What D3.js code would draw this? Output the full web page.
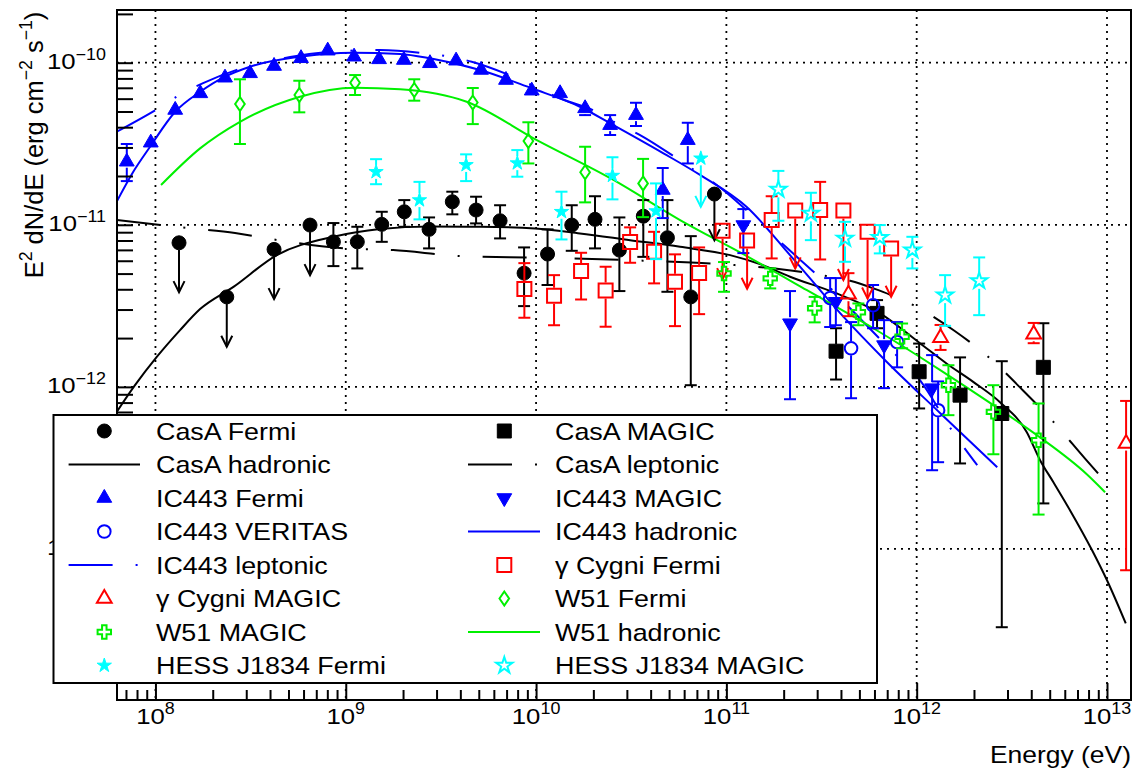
<!DOCTYPE html>
<html>
<head>
<meta charset="utf-8">
<title>SNR gamma-ray spectra</title>
<script src="https://cdn.jsdelivr.net/npm/d3@7"></script>
<style>
  html, body { margin: 0; padding: 0; background: #fff; }
  svg { display: block; }
  text { font-family: "Liberation Sans", Arial, Helvetica, sans-serif; fill: #000; }
</style>
</head>
<body>
<svg id="chart" width="1140" height="770"></svg>
<script>
// ---------------- data: E in eV, E^2 dN/dE in erg cm^-2 s^-1 ----------------

// Cas A, Fermi-LAT (detections with 1-sigma bars)
const casaFermiE  = [8.61e8, 1.15e9, 1.546e9, 2.03e9, 2.74e9, 3.63e9, 4.84e9, 6.47e9, 8.65e9, 1.149e10, 1.54e10, 2.04e10, 2.74e10, 3.66e10, 4.90e10, 6.50e10];
const casaFermiF  = [7.85e-12, 7.85e-12, 1.006e-11, 1.203e-11, 9.37e-12, 1.387e-11, 1.233e-11, 1.059e-11, 5.03e-12, 6.60e-12, 9.96e-12, 1.08e-11, 6.98e-12, 1.13e-11, 8.32e-12, 3.59e-12];
const casaFermiHi = [1.025e-11, 9.72e-12, 1.203e-11, 1.42e-11, 1.11e-11, 1.60e-11, 1.49e-11, 1.32e-11, 7.25e-12, 9.37e-12, 1.32e-11, 1.50e-11, 1.11e-11, 1.42e-11, 1.42e-11, 8.51e-12];
const casaFermiLo = [5.56e-12, 5.38e-12, 7.85e-12, 9.72e-12, 7.15e-12, 1.16e-11, 1.02e-11, 8.24e-12, 3.15e-12, 4.25e-12, 6.91e-12, 7.15e-12, 3.90e-12, 6.34e-12, 3.86e-12, 1.024e-12];
// Cas A, Fermi-LAT upper limits (value and arrow tip)
const casaFermiUlE   = [1.33e8, 2.37e8, 4.20e8, 6.49e8, 8.65e10];
const casaFermiUlF   = [7.74e-12, 3.59e-12, 7.05e-12, 9.96e-12, 1.547e-11];
const casaFermiUlTip = [3.84e-12, 1.77e-12, 3.48e-12, 4.89e-12, 8.04e-12];

// Cas A, MAGIC
const casaMagicE  = [3.77e11, 6.19e11, 1.03e12, 1.69e12, 2.80e12, 4.63e12];
const casaMagicF  = [1.66e-12, 2.84e-12, 1.24e-12, 8.89e-13, 6.85e-13, 1.32e-12];
const casaMagicHi = [2.30e-12, 3.43e-12, 1.85e-12, 1.52e-12, 1.44e-12, 2.47e-12];
const casaMagicLo = [1.11e-12, 2.30e-12, 7.36e-13, 3.37e-13, 3.29e-14, 1.91e-13];

// IC 443, Fermi-LAT (bars only where they stick out of the marker)
const ic443FermiE  = [7.07e7, 9.45e7, 1.27e8, 1.72e8, 2.32e8, 3.14e8, 4.20e8, 5.82e8, 8.04e8, 1.106e9, 1.496e9, 2.02e9, 2.77e9, 3.80e9, 5.14e9, 6.95e9, 9.49e9, 1.337e10, 1.81e10, 2.45e10, 3.35e10, 4.63e10, 6.27e10];
const ic443FermiF  = [2.45e-11, 3.21e-11, 5.11e-11, 6.47e-11, 8.08e-11, 8.60e-11, 9.54e-11, 1.065e-10, 1.186e-10, 1.089e-10, 1.049e-10, 1.039e-10, 9.92e-11, 1.029e-10, 9.02e-11, 7.82e-11, 6.72e-11, 6.47e-11, 5.23e-11, 4.12e-11, 4.75e-11, 1.64e-11, 3.33e-11];
const ic443FermiHi = [3.15e-11, null, null, null, null, null, null, null, null, null, null, null, null, null, null, null, null, null, 5.62e-11, 4.75e-11, 5.66e-11, 2.24e-11, 4.26e-11];
const ic443FermiLo = [1.86e-11, null, null, null, null, null, null, null, null, null, null, null, null, null, null, null, null, null, 4.75e-11, 3.58e-11, 4.07e-11, 1.10e-11, 2.39e-11];

// IC 443, MAGIC
const ic443MagicE  = [1.228e11, 2.16e11, 3.76e11, 6.74e11, 1.205e12];
const ic443MagicF  = [9.96e-12, 2.47e-12, 3.35e-12, 1.81e-12, 9.82e-13];
const ic443MagicHi = [1.25e-11, 3.90e-12, 4.69e-12, 2.58e-12, 1.57e-12];
const ic443MagicLo = [6.69e-12, 8.39e-13, 2.40e-12, 9.82e-13, 3.06e-13];

// IC 443, VERITAS
const ic443VeritasE  = [3.51e11, 4.52e11, 5.90e11, 7.89e11, 1.296e12];
const ic443VeritasF  = [3.53e-12, 1.73e-12, 3.19e-12, 1.89e-12, 7.18e-13];
const ic443VeritasHi = [4.69e-12, 2.51e-12, 4.25e-12, 2.51e-12, 1.08e-12];
const ic443VeritasLo = [2.34e-12, 8.51e-13, 2.30e-12, 1.32e-12, 3.43e-13];

// gamma Cygni, Fermi-LAT
const gcygFermiE  = [8.68e9, 1.243e10, 1.724e10, 2.32e10, 3.12e10, 4.17e10, 5.37e10, 7.19e10, 1.73e11, 3.11e11];
const gcygFermiF  = [4.01e-12, 3.65e-12, 5.18e-12, 3.93e-12, 7.82e-12, 6.81e-12, 4.45e-12, 5.05e-12, 1.069e-11, 1.233e-11];
const gcygFermiHi = [5.80e-12, 4.89e-12, 6.72e-12, 5.51e-12, 9.64e-12, 9.05e-12, 6.57e-12, 7.25e-12, 1.50e-11, 1.84e-11];
const gcygFermiLo = [2.67e-12, 2.40e-12, 3.46e-12, 2.35e-12, 5.83e-12, 4.35e-12, 2.37e-12, 2.81e-12, 6.20e-12, 6.11e-12];
const gcygFermiUlE   = [9.55e10, 1.285e11, 2.30e11, 4.12e11, 5.52e11, 7.34e11];
const gcygFermiUlF   = [9.18e-12, 7.99e-12, 1.224e-11, 1.224e-11, 9.05e-12, 7.15e-12];
const gcygFermiUlTip = [4.62e-12, 4.03e-12, 5.38e-12, 4.56e-12, 3.51e-12, 3.60e-12];

// gamma Cygni, MAGIC
const gcygMagicE  = [4.38e11, 1.335e12, 4.12e12, 1.26e13];
const gcygMagicF  = [3.73e-12, 2.01e-12, 2.11e-12, 4.47e-13];
const gcygMagicHi = [5.03e-12, 2.41e-12, 2.48e-12, 8.19e-13];
const gcygMagicLo = [2.73e-12, 1.69e-12, 1.86e-12, 7.39e-14];

// W51, Fermi-LAT
const w51FermiE  = [2.78e8, 5.70e8, 1.119e9, 2.29e9, 4.65e9, 9.11e9, 1.81e10, 3.65e10];
const w51FermiF  = [5.56e-11, 6.32e-11, 7.52e-11, 6.78e-11, 5.68e-11, 3.29e-11, 2.11e-11, 1.80e-11];
const w51FermiHi = [7.90e-11, 7.74e-11, 8.39e-11, 7.90e-11, 6.98e-11, 4.29e-11, 3.03e-11, 2.55e-11];
const w51FermiLo = [3.15e-11, 4.94e-11, 6.32e-11, 5.83e-11, 4.18e-11, 2.39e-11, 1.375e-11, 1.115e-11];

// W51, MAGIC
const w51MagicE  = [9.72e10, 1.70e11, 2.91e11, 4.94e11, 8.38e11, 1.468e12, 2.53e12, 4.37e12];
const w51MagicF  = [5.01e-12, 4.67e-12, 3.06e-12, 2.89e-12, 2.04e-12, 1.024e-12, 7.01e-13, 4.69e-13];
const w51MagicHi = [5.89e-12, 5.38e-12, 3.59e-12, 3.27e-12, 2.46e-12, 1.36e-12, 1.024e-12, 7.90e-13];
const w51MagicLo = [3.86e-12, 4.05e-12, 2.50e-12, 2.40e-12, 1.73e-12, 6.69e-13, 3.84e-13, 1.63e-13];

// HESS J1834-087, Fermi-LAT
const hessFermiE  = [1.443e9, 2.44e9, 4.29e9, 7.97e9, 1.36e10, 2.52e10, 4.27e10];
const hessFermiF  = [2.12e-11, 1.42e-11, 2.34e-11, 2.40e-11, 1.203e-11, 2.01e-11, 1.215e-11];
const hessFermiHi = [2.54e-11, 1.84e-11, 2.72e-11, 2.89e-11, 1.60e-11, 2.61e-11, 1.80e-11];
const hessFermiLo = [1.78e-11, 1.08e-11, 1.86e-11, 1.98e-11, 8.12e-12, 1.435e-11, 6.14e-12];
const hessFermiUlE   = [7.34e10];
const hessFermiUlF   = [2.57e-11];
const hessFermiUlTip = [1.29e-11];

// HESS J1834-087, MAGIC
const hessMagicE  = [1.876e11, 2.78e11, 4.20e11, 6.40e11, 9.49e11, 1.41e12, 2.13e12];
const hessMagicF  = [1.654e-11, 1.176e-11, 8.24e-12, 8.34e-12, 6.98e-12, 3.68e-12, 4.51e-12];
const hessMagicHi = [2.15e-11, 1.576e-11, 1.043e-11, 9.96e-12, 8.43e-12, 4.89e-12, 6.29e-12];
const hessMagicLo = [1.059e-11, 8.04e-12, 5.91e-12, 6.66e-12, 5.38e-12, 2.38e-12, 2.77e-12];

// Model curves
const casaHadE = [6.26e7, 7.81e7, 1.016e8, 1.347e8, 1.716e8, 2.57e8, 4.34e8, 8.61e8, 1.515e9, 2.77e9, 5.08e9, 9.88e9, 1.70e10, 3.12e10, 5.71e10, 1.046e11, 1.50e11, 2.16e11, 3.65e11, 6.42e11, 1.04e12, 1.44e12, 1.99e12, 2.74e12, 3.79e12, 4.45e12, 5.23e12, 6.40e12, 8.35e12, 1.00e13, 1.254e13];
const casaHadF = [7.01e-13, 1.024e-12, 1.53e-12, 2.24e-12, 3.02e-12, 4.14e-12, 6.50e-12, 8.43e-12, 9.41e-12, 9.75e-12, 9.72e-12, 9.50e-12, 8.85e-12, 8.04e-12, 7.31e-12, 6.50e-12, 5.72e-12, 4.78e-12, 3.84e-12, 2.84e-12, 1.86e-12, 1.39e-12, 1.07e-12, 8.04e-13, 5.25e-13, 3.53e-13, 2.58e-13, 1.73e-13, 9.82e-14, 6.41e-14, 3.48e-14];

const casaLepE = [6.26e7, 1.484e8, 2.62e8, 4.41e8, 9.33e8, 1.773e9, 4.07e9, 1.012e10, 3.65e10, 1.11e11, 1.98e11, 3.17e11, 4.47e11, 5.92e11, 9.61e11, 1.578e12, 2.38e12, 3.61e12, 5.23e12, 7.67e12, 1.077e13];
const casaLepF = [1.069e-11, 9.54e-12, 8.89e-12, 8.04e-12, 7.18e-12, 6.98e-12, 6.41e-12, 6.27e-12, 6.01e-12, 5.64e-12, 5.30e-12, 4.89e-12, 4.51e-12, 4.05e-12, 3.19e-12, 2.22e-12, 1.53e-12, 9.54e-13, 6.08e-13, 3.61e-13, 2.30e-13];

const ic443HadE = [6.26e7, 7.62e7, 9.37e7, 1.27e8, 1.72e8, 2.32e8, 3.14e8, 5.75e8, 1.092e9, 1.93e9, 2.77e9, 5.08e9, 9.49e9, 1.70e10, 2.55e10, 4.67e10, 7.27e10, 1.28e11, 2.16e11, 3.96e11, 6.99e11, 1.33e12, 2.65e12];
const ic443HadF = [1.39e-11, 2.11e-11, 3.03e-11, 4.98e-11, 6.62e-11, 8.20e-11, 9.45e-11, 1.089e-10, 1.153e-10, 1.132e-10, 1.064e-10, 9.01e-11, 6.95e-11, 5.35e-11, 4.12e-11, 2.76e-11, 2.03e-11, 1.286e-11, 6.50e-12, 2.85e-12, 1.42e-12, 6.88e-13, 3.19e-13];

const ic443LepE = [6.26e7, 1.07e8, 1.363e8, 1.78e8, 2.89e8, 5.10e8, 8.79e8, 1.515e9, 2.61e9, 3.53e9, 4.59e9, 7.60e9, 1.365e10, 2.08e10, 2.69e10, 3.52e10, 5.49e10, 6.99e10, 8.90e10, 1.33e11, 2.03e11, 3.04e11, 4.56e11, 6.82e11, 1.04e12, 1.55e12, 2.08e12];
const ic443LepF = [3.75e-11, 5.35e-11, 6.41e-11, 7.49e-11, 9.31e-11, 1.084e-10, 1.172e-10, 1.198e-10, 1.143e-10, 1.089e-10, 1.014e-10, 8.20e-11, 5.97e-11, 4.98e-11, 4.18e-11, 3.58e-11, 2.57e-11, 2.12e-11, 1.76e-11, 1.176e-11, 7.39e-12, 4.82e-12, 2.98e-12, 1.83e-12, 1.10e-12, 5.28e-13, 3.29e-13];

const w51HadE = [1.07e8, 1.716e8, 2.78e8, 5.75e8, 1.119e9, 1.93e9, 4.32e9, 1.009e10, 2.55e10, 5.71e10, 1.28e11, 2.65e11, 5.92e11, 1.33e12, 2.53e12, 4.36e12, 7.83e12, 9.77e12];
const w51HadF = [1.76e-11, 2.96e-11, 4.32e-11, 6.17e-11, 7.01e-11, 6.85e-11, 5.74e-11, 3.33e-11, 1.89e-11, 1.069e-11, 6.41e-12, 3.95e-12, 2.30e-12, 1.27e-12, 7.71e-13, 4.96e-13, 2.89e-13, 2.24e-13];

// Axis decorations
const decadesE = [1e8, 1e9, 1e10, 1e11, 1e12, 1e13];
const decadesF = [1e-13, 1e-12, 1e-11, 1e-10];
const xTickLabels = ["8", "9", "10", "11", "12", "13"];
const yTickLabels = ["\u221213", "\u221212", "\u221211", "\u221210"];

// ---------------- layout ----------------
const svg = d3.select("#chart");
const frame = { left: 117, right: 1131, top: 10, bottom: 700 };

const x = d3.scaleLog().domain([6.28e7, 1.337e13]).range([frame.left, frame.right]);
const y = d3.scaleLog().domain([1.17e-14, 2.114e-10]).range([frame.bottom, frame.top]);

const COL = { black: "#000000", blue: "#0000ff", red: "#ff0000", green: "#00f000", cyan: "#00ffff" };

svg.append("defs").append("clipPath").attr("id", "plot-clip")
  .append("rect")
  .attr("x", frame.left).attr("y", frame.top)
  .attr("width", frame.right - frame.left).attr("height", frame.bottom - frame.top);

// dotted grid at each decade
const grid = svg.append("g")
  .attr("stroke", "#000").attr("stroke-width", 1.8).attr("stroke-dasharray", "2 5");
grid.selectAll("line.gx").data(decadesE).join("line").attr("class", "gx")
  .attr("x1", d => x(d)).attr("x2", d => x(d))
  .attr("y1", frame.top).attr("y2", frame.bottom);
grid.selectAll("line.gy").data(decadesF).join("line").attr("class", "gy")
  .attr("x1", frame.left).attr("x2", frame.right)
  .attr("y1", d => y(d)).attr("y2", d => y(d));

const plot = svg.append("g").attr("clip-path", "url(#plot-clip)");

// ---------------- model curves ----------------
const LEPTONIC_DASH = "44 23 2 23";
const curves = {
  casaHad:  { E: casaHadE,  F: casaHadF,  color: COL.black, dash: null },
  casaLep:  { E: casaLepE,  F: casaLepF,  color: COL.black, dash: LEPTONIC_DASH },
  ic443Had: { E: ic443HadE, F: ic443HadF, color: COL.blue,  dash: null },
  ic443Lep: { E: ic443LepE, F: ic443LepF, color: COL.blue,  dash: LEPTONIC_DASH },
  w51Had:   { E: w51HadE,   F: w51HadF,   color: COL.green, dash: null }
};
const curveLine = d3.line().x(d => x(d[0])).y(d => y(d[1])).curve(d3.curveMonotoneX);
Object.values(curves).forEach(c => {
  plot.append("path")
    .attr("d", curveLine(d3.zip(c.E, c.F)))
    .attr("fill", "none")
    .attr("stroke", c.color)
    .attr("stroke-width", 2)
    .attr("stroke-dasharray", c.dash);
});

// ---------------- markers ----------------
const diamondType = {
  draw(ctx) {
    ctx.moveTo(0, -7); ctx.lineTo(4.8, 0); ctx.lineTo(0, 7); ctx.lineTo(-4.8, 0); ctx.closePath();
  }
};
const shapeGen = {
  circle:     d3.symbol(d3.symbolCircle, Math.PI * 7 * 7),
  openCircle: d3.symbol(d3.symbolCircle, Math.PI * 6.3 * 6.3),
  square:     d3.symbol(d3.symbolSquare, 14 * 14),
  triangle:   d3.symbol(d3.symbolTriangle, 95),
  diamond:    d3.symbol(diamondType, 1),
  cross:      d3.symbol(d3.symbolCross, 100),
  star:       d3.symbol(d3.symbolStar, 63),
  openStar:   d3.symbol(d3.symbolStar, 82)
};

const series = {
  casaFermi:   { E: casaFermiE, F: casaFermiF, hi: casaFermiHi, lo: casaFermiLo,
                 ulE: casaFermiUlE, ulF: casaFermiUlF, ulTip: casaFermiUlTip,
                 shape: "circle", open: false, color: COL.black, gap: 7 },
  casaMagic:   { E: casaMagicE, F: casaMagicF, hi: casaMagicHi, lo: casaMagicLo,
                 shape: "square", open: false, color: COL.black, gap: 7 },
  ic443Fermi:  { E: ic443FermiE, F: ic443FermiF, hi: ic443FermiHi, lo: ic443FermiLo,
                 shape: "triangle", open: false, color: COL.blue, gap: 6 },
  ic443Magic:  { E: ic443MagicE, F: ic443MagicF, hi: ic443MagicHi, lo: ic443MagicLo,
                 shape: "triangle", flip: true, open: false, color: COL.blue, gap: 6 },
  ic443Veritas:{ E: ic443VeritasE, F: ic443VeritasF, hi: ic443VeritasHi, lo: ic443VeritasLo,
                 shape: "openCircle", open: true, color: COL.blue, gap: 7 },
  gcygFermi:   { E: gcygFermiE, F: gcygFermiF, hi: gcygFermiHi, lo: gcygFermiLo,
                 ulE: gcygFermiUlE, ulF: gcygFermiUlF, ulTip: gcygFermiUlTip,
                 shape: "square", open: true, color: COL.red, gap: 8 },
  gcygMagic:   { E: gcygMagicE, F: gcygMagicF, hi: gcygMagicHi, lo: gcygMagicLo,
                 shape: "triangle", open: true, color: COL.red, gap: 7 },
  w51Fermi:    { E: w51FermiE, F: w51FermiF, hi: w51FermiHi, lo: w51FermiLo,
                 shape: "diamond", open: true, color: COL.green, gap: 7 },
  w51Magic:    { E: w51MagicE, F: w51MagicF, hi: w51MagicHi, lo: w51MagicLo,
                 shape: "cross", open: true, color: COL.green, gap: 7 },
  hessFermi:   { E: hessFermiE, F: hessFermiF, hi: hessFermiHi, lo: hessFermiLo,
                 ulE: hessFermiUlE, ulF: hessFermiUlF, ulTip: hessFermiUlTip,
                 shape: "star", open: false, color: COL.cyan, gap: 7 },
  hessMagic:   { E: hessMagicE, F: hessMagicF, hi: hessMagicHi, lo: hessMagicLo,
                 shape: "openStar", open: true, color: COL.cyan, gap: 8 }
};

function drawMarker(g, s, px, py) {
  g.append("path")
    .attr("d", shapeGen[s.shape]())
    .attr("transform", `translate(${px},${py})` + (s.flip ? " rotate(180)" : ""))
    .attr("fill", s.open ? "none" : s.color)
    .attr("stroke", s.color)
    .attr("stroke-width", s.open ? 2 : 1);
}

const CAP = 6;
Object.values(series).forEach(s => {
  const g = plot.append("g").attr("stroke", s.color).attr("stroke-width", 2).attr("fill", "none");
  // error bars, interrupted where the marker sits
  s.E.forEach((e, i) => {
    if (s.hi[i] == null) return;
    const px = x(e), py = y(s.F[i]), top = y(s.hi[i]), bot = y(s.lo[i]);
    if (top < py - s.gap) {
      g.append("line").attr("x1", px).attr("x2", px).attr("y1", top).attr("y2", py - s.gap);
      g.append("line").attr("x1", px - CAP).attr("x2", px + CAP).attr("y1", top).attr("y2", top);
    }
    if (bot > py + s.gap) {
      g.append("line").attr("x1", px).attr("x2", px).attr("y1", py + s.gap).attr("y2", bot);
      g.append("line").attr("x1", px - CAP).attr("x2", px + CAP).attr("y1", bot).attr("y2", bot);
    }
  });
  // upper limits: arrow pointing down
  if (s.ulE) {
    s.ulE.forEach((e, i) => {
      const px = x(e), py = y(s.ulF[i]), tip = y(s.ulTip[i]);
      g.append("line").attr("x1", px).attr("x2", px).attr("y1", py + s.gap).attr("y2", tip);
      g.append("path").attr("d", `M${px - 5.5},${tip - 11}L${px},${tip}L${px + 5.5},${tip - 11}`);
    });
  }
  const m = plot.append("g");
  s.E.forEach((e, i) => drawMarker(m, s, x(e), y(s.F[i])));
  if (s.ulE) s.ulE.forEach((e, i) => drawMarker(m, s, x(e), y(s.ulF[i])));
});

// ---------------- frame and axes ----------------
svg.append("rect")
  .attr("x", frame.left).attr("y", frame.top)
  .attr("width", frame.right - frame.left).attr("height", frame.bottom - frame.top)
  .attr("fill", "none").attr("stroke", "#000").attr("stroke-width", 2);

const [eMin, eMax] = x.domain();
const minorE = [];
for (let n = 7; n <= 13; n++) for (let k = 2; k <= 9; k++) {
  const v = k * Math.pow(10, n);
  if (v > eMin && v < eMax) minorE.push(v);
}
const [fMin, fMax] = y.domain();
const allF = [];
for (let n = -14; n <= -10; n++) for (let k = 1; k <= 9; k++) {
  const v = k * Math.pow(10, n);
  if (v > fMin && v < fMax) allF.push(v);
}

function styleTicks(g) {
  g.select(".domain").remove();
  g.selectAll("line").attr("stroke", "#000").attr("stroke-width", 2);
}
svg.append("g").attr("transform", `translate(0,${frame.bottom})`)
  .call(d3.axisBottom(x).tickValues(decadesE).tickSize(-17).tickFormat(""))
  .call(styleTicks);
svg.append("g").attr("transform", `translate(0,${frame.bottom})`)
  .call(d3.axisBottom(x).tickValues(minorE).tickSize(-10).tickFormat(""))
  .call(styleTicks);
svg.append("g").attr("transform", `translate(${frame.left},0)`)
  .call(d3.axisLeft(y).tickValues(allF).tickSize(-16).tickFormat(""))
  .call(styleTicks);

// text with optional superscripts; parts = [[text, isSuperscript], ...]
function richText(parent, px, py, parts, o) {
  const t = parent.append("text")
    .attr("transform", `translate(${px},${py})` + (o.rotate ? ` rotate(${o.rotate})` : "") + ` scale(${o.sx || 1},1)`)
    .attr("text-anchor", o.anchor || "start")
    .style("font-size", o.size + "px");
  let raised = false;
  parts.forEach(([str, sup]) => {
    const ts = t.append("tspan").text(str);
    if (sup && !raised) { ts.attr("dy", -o.rise).style("font-size", o.supSize + "px"); raised = true; }
    else if (sup) { ts.style("font-size", o.supSize + "px"); }
    else if (raised) { ts.attr("dy", o.rise); raised = false; }
  });
  return t;
}

decadesE.forEach((d, i) => {
  richText(svg, x(d), 724, [["10", false], [xTickLabels[i], true]],
    { anchor: "middle", size: 23, supSize: 16, rise: 10, sx: 1.12 });
});
decadesF.forEach((d, i) => {
  richText(svg, 106, y(d) + 6, [["10", false], [yTickLabels[i], true]],
    { anchor: "end", size: 23, supSize: 16, rise: 9, sx: 1.12 });
});

richText(svg, 1131, 763, [["Energy (eV)", false]], { anchor: "end", size: 23, sx: 1.15 });

richText(svg, 43, 145,
  [["E", false], ["2", true], [" dN/dE (erg cm", false], ["\u22122", true], [" s", false], ["\u22121", true], [")", false]],
  { anchor: "middle", size: 26, supSize: 18, rise: 11, rotate: -90, sx: 0.98 });

// ---------------- legend ----------------
const legendEntries = [
  ["CasA Fermi", "casaFermi"],        ["CasA MAGIC", "casaMagic"],
  ["CasA hadronic", "casaHad"],       ["CasA leptonic", "casaLep"],
  ["IC443 Fermi", "ic443Fermi"],      ["IC443 MAGIC", "ic443Magic"],
  ["IC443 VERITAS", "ic443Veritas"],  ["IC443 hadronic", "ic443Had"],
  ["IC443 leptonic", "ic443Lep"],     ["\u03b3 Cygni Fermi", "gcygFermi"],
  ["\u03b3 Cygni MAGIC", "gcygMagic"],["W51 Fermi", "w51Fermi"],
  ["W51 MAGIC", "w51Magic"],          ["W51 hadronic", "w51Had"],
  ["HESS J1834 Fermi", "hessFermi"],  ["HESS J1834 MAGIC", "hessMagic"]
];
const legendBox = { x: 53.5, y: 415, w: 823.5, h: 268 };
const legend = svg.append("g");
legend.append("rect")
  .attr("x", legendBox.x).attr("y", legendBox.y)
  .attr("width", legendBox.w).attr("height", legendBox.h)
  .attr("fill", "#fff").attr("stroke", "#000").attr("stroke-width", 2);

const colMarkerX = [104.3, 504.3];
const colLineX = [[68.6, 140], [468, 540]];
const colTextX = [156, 555];
legendEntries.forEach(([label, key], i) => {
  const row = Math.floor(i / 2), col = i % 2;
  const ry = 431 + row * 33.5;
  if (series[key]) {
    drawMarker(legend, series[key], colMarkerX[col], ry);
  } else {
    const c = curves[key];
    legend.append("line")
      .attr("x1", colLineX[col][0]).attr("x2", colLineX[col][1])
      .attr("y1", ry).attr("y2", ry)
      .attr("stroke", c.color).attr("stroke-width", 2)
      .attr("stroke-dasharray", c.dash);
  }
  richText(legend, colTextX[col], ry + 8.5, [[label, false]], { size: 24, sx: 1.12 });
});
</script>
</body>
</html>
